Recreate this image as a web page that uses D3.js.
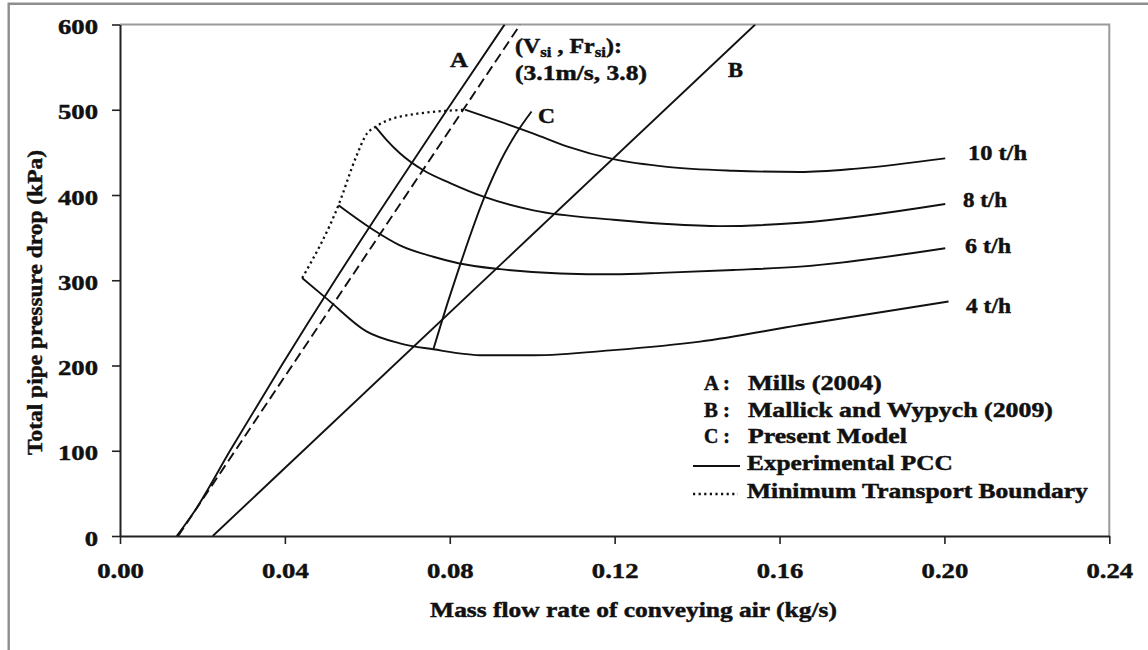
<!DOCTYPE html>
<html>
<head>
<meta charset="utf-8">
<script src="https://cdn.jsdelivr.net/npm/d3@7"></script>
<style>
  html, body { margin: 0; padding: 0; background: #fff; }
  svg { display: block; }
  text { font-family: "Liberation Serif", "Times New Roman", serif; font-weight: bold; fill: #111; stroke: #111; stroke-width: 0.45px; }
</style>
</head>
<body>
<svg id="chart" width="1148" height="650"></svg>
<script>
// ---- data -------------------------------------------------------------
const xTickValues = [0, 0.04, 0.08, 0.12, 0.16, 0.20, 0.24];
const yTickValues = [0, 100, 200, 300, 400, 500, 600];

// A: Mills (2004)
const millsV = [0.01376, 0.01820, 0.02669, 0.03919, 0.05217, 0.06564, 0.07935, 0.09331];
const millsP = [0, 30, 100, 200, 300, 400, 500, 600];
// B: Mallick and Wypych (2009)
const mallickV = [0.0225, 0.1541];
const mallickP = [0, 600];
// C: present model
const modelV = [0.07602, 0.07971, 0.08250, 0.08845, 0.09245, 0.09609, 0.09985];
const modelP = [219, 277, 318, 398, 441, 472, 498];
// dashed line: Vsi = 3.1 m/s, Frsi = 3.8
const limitV = [0.0141, 0.0971];
const limitP = [0, 600];

// experimental pressure conveying characteristics
const pccNames = ["10 t/h", "8 t/h", "6 t/h", "4 t/h"];
const pcc10V = [0.0837, 0.0922, 0.1003, 0.1084, 0.1197, 0.1327, 0.1488, 0.1650, 0.1788, 0.2002];
const pcc10P = [500, 486, 472, 457, 442, 433, 428.5, 427, 431, 443];
const pcc8V = [0.0620, 0.0647, 0.0679, 0.0736, 0.0801, 0.0882, 0.1003, 0.1197, 0.1327, 0.1456, 0.1650, 0.2002];
const pcc8P = [480, 464.5, 449, 429, 414, 398, 382, 371, 366, 363.5, 367.5, 389.5];
const pcc6V = [0.0530, 0.0615, 0.0679, 0.0760, 0.0821, 0.0922, 0.1068, 0.1197, 0.1327, 0.1488, 0.1650, 0.2002];
const pcc6P = [388, 359, 341, 327.6, 320, 313, 308, 307, 309, 312, 316, 337.5];
const pcc4V = [0.0442, 0.0505, 0.0599, 0.0679, 0.0760, 0.0882, 0.1003, 0.1197, 0.1407, 0.1650, 0.2010];
const pcc4P = [302.6, 277, 239.7, 226, 219, 212, 212, 218, 228, 247.5, 275];

// minimum transport boundary
const mtbV = [0.0442, 0.0530, 0.0573, 0.0599, 0.0620, 0.0680, 0.0837];
const mtbP = [302.6, 388, 445, 472, 480, 492, 500];

const legendKeys = ["A", "B", "C"];
const legendNames = ["Mills (2004)", "Mallick and Wypych (2009)", "Present Model"];
const legendLines = ["Experimental PCC", "Minimum Transport Boundary"];

// ---- layout -----------------------------------------------------------
const svg = d3.select("#chart");
const plot = { left: 120, right: 1109.3, top: 24.5, bottom: 536 };

const x = d3.scaleLinear().domain([0, 0.24]).range([plot.left, plot.right]);
const y = d3.scaleLinear().domain([0, 600]).range([plot.bottom, plot.top]);

const zip = (vs, ps) => vs.map((v, i) => [v, ps[i]]);

// outer frame
svg.append("path")
  .attr("d", `M8.7,650 V3.7 H1148`)
  .attr("fill", "none").attr("stroke", "#8e8e8e").attr("stroke-width", 2.4);

// plot box: top and right in grey
svg.append("path")
  .attr("d", `M${plot.left},${plot.top} H${plot.right} V${plot.bottom}`)
  .attr("fill", "none").attr("stroke", "#9a9a9a").attr("stroke-width", 2);

// stretched text helper: draws text at (px,py) and scales it horizontally to width w
function label(parent, str, px, py, w, opts = {}) {
  const g = parent.append("g").attr("transform", `translate(${px},${py})${opts.rotate ? ` rotate(${opts.rotate})` : ""}`);
  const t = g.append("text")
    .attr("text-anchor", opts.anchor || "start")
    .style("font-size", (opts.size || 20) + "px");
  if (typeof str === "function") str(t); else t.text(str);
  const len = t.node().getComputedTextLength();
  t.attr("transform", `scale(${w / len},1)`);
  return t;
}

// axes
const tickFont = 21, tickStretch = 1.27;
const yAxis = svg.append("g")
  .attr("transform", `translate(${plot.left},0)`)
  .call(d3.axisLeft(y).tickValues(yTickValues).tickSize(8).tickSizeOuter(0).tickFormat(d3.format("d")));
const xAxis = svg.append("g")
  .attr("transform", `translate(0,${plot.bottom})`)
  .call(d3.axisBottom(x).tickValues(xTickValues).tickSize(8).tickSizeOuter(0).tickFormat(d3.format(".2f")));

[yAxis, xAxis].forEach(a => {
  a.select(".domain").attr("stroke", "#222").attr("stroke-width", 2);
  a.selectAll(".tick line").attr("stroke", "#222").attr("stroke-width", 1.6);
  a.selectAll(".tick text")
    .style("font-size", tickFont + "px")
    .style("font-family", "'Liberation Serif', 'Times New Roman', serif")
    .style("font-weight", "bold")
    .attr("fill", "#111");
});
yAxis.selectAll(".tick text")
  .attr("x", -22 / tickStretch).attr("dy", null).attr("y", 9)
  .attr("transform", `scale(${tickStretch},1)`);
xAxis.selectAll(".tick text")
  .attr("dy", null).attr("y", 42)
  .attr("transform", `scale(${tickStretch},1)`);

// axis titles
label(svg, "Mass flow rate of conveying air (kg/s)", 633.5, 617, 407, { anchor: "middle", size: 21 });
label(svg, "Total pipe pressure drop (kPa)", 41.5, 302.5, 305, { anchor: "middle", size: 21, rotate: -90 });

// ---- curves -----------------------------------------------------------
svg.append("clipPath").attr("id", "plot-clip")
  .append("rect").attr("x", plot.left).attr("y", plot.top)
  .attr("width", plot.right - plot.left).attr("height", plot.bottom - plot.top);

const curves = svg.append("g").attr("clip-path", "url(#plot-clip)")
  .attr("fill", "none").attr("stroke", "#111").attr("stroke-width", 1.9)
  .attr("stroke-linecap", "butt").attr("stroke-linejoin", "round");

const line = d3.line().x(d => x(d[0])).y(d => y(d[1])).curve(d3.curveMonotoneX);
const straight = d3.line().x(d => x(d[0])).y(d => y(d[1]));

curves.append("path").attr("d", line(zip(millsV, millsP)));
curves.append("path").attr("d", straight(zip(mallickV, mallickP)));
curves.append("path").attr("d", straight(zip(limitV, limitP))).attr("stroke-dasharray", "10,5");
curves.append("path").attr("d", line(zip(modelV, modelP)));

[[pcc10V, pcc10P], [pcc8V, pcc8P], [pcc6V, pcc6P], [pcc4V, pcc4P]].forEach(([vs, ps]) => {
  curves.append("path").attr("d", line(zip(vs, ps)));
});

curves.append("path").attr("d", line(zip(mtbV, mtbP)))
  .attr("stroke-dasharray", "2.2,3.4").attr("stroke-width", 2.3);

// ---- annotations ------------------------------------------------------
label(svg, "A", 459, 67, 18, { anchor: "middle" });
label(svg, "B", 735.5, 77, 15, { anchor: "middle" });
label(svg, "C", 546.5, 123, 17, { anchor: "middle" });

label(svg, t => {
  t.append("tspan").text("(V");
  t.append("tspan").text("si").style("font-size", "14px").attr("dy", 4);
  t.append("tspan").text(" , Fr").attr("dy", -4);
  t.append("tspan").text("si").style("font-size", "14px").attr("dy", 4);
  t.append("tspan").text("):").attr("dy", -4);
}, 515, 53, 107);
label(svg, "(3.1m/s, 3.8)", 515, 80, 132);

const seriesLabelPos = [[968, 160, 59], [963, 207, 44], [965, 253, 46], [966, 313, 45]];
pccNames.forEach((n, i) => {
  const [px, py, w] = seriesLabelPos[i];
  label(svg, n, px, py, w);
});

// legend
const legendBase = [390, 417, 443];
const legendWidths = [134, 305, 159];
legendKeys.forEach((k, i) => {
  label(svg, k + " :", 704, legendBase[i], 26);
  label(svg, legendNames[i], 748, legendBase[i], legendWidths[i]);
});
svg.append("line").attr("x1", 693).attr("x2", 740).attr("y1", 466).attr("y2", 466)
  .attr("stroke", "#111").attr("stroke-width", 1.9);
svg.append("line").attr("x1", 693).attr("x2", 738).attr("y1", 494).attr("y2", 494)
  .attr("stroke", "#111").attr("stroke-width", 2.3).attr("stroke-dasharray", "2.2,3.4");
label(svg, legendLines[0], 747, 470, 206);
label(svg, legendLines[1], 747, 498, 341);
</script>
</body>
</html>
